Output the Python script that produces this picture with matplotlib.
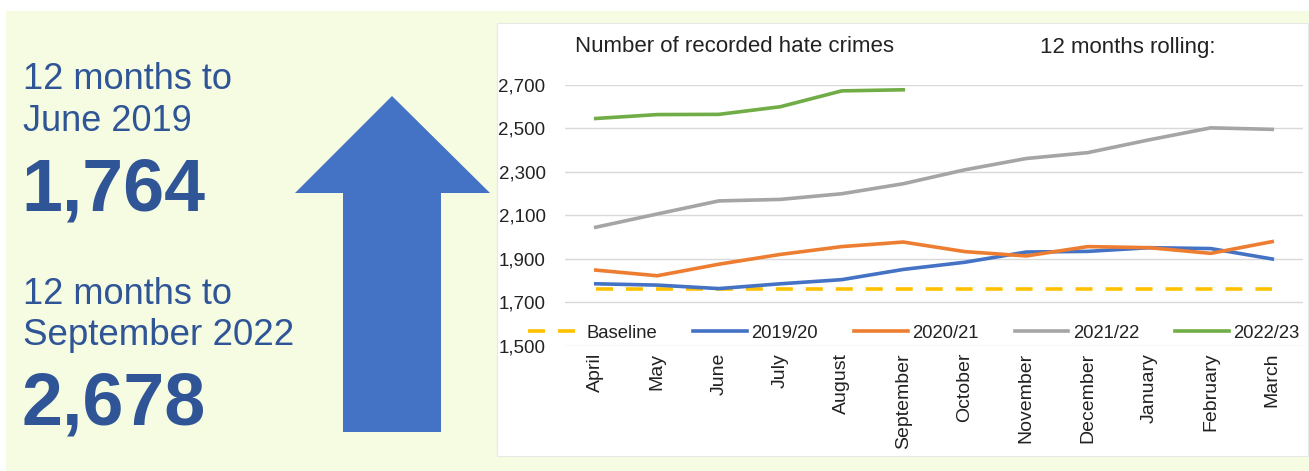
import matplotlib.pyplot as plt
from matplotlib.patches import Rectangle, Polygon

W, H = 1309, 471

MONTHS = ["April", "May", "June", "July", "August", "September",
          "October", "November", "December", "January", "February", "March"]

BASELINE = 1764
Y_2019_20 = [1786, 1780, 1764, 1786, 1805, 1852, 1885, 1932, 1935, 1952, 1948, 1900]
Y_2020_21 = [1849, 1823, 1876, 1921, 1957, 1978, 1934, 1914, 1957, 1952, 1926, 1980]
Y_2021_22 = [2046, 2107, 2167, 2174, 2200, 2246, 2310, 2362, 2389, 2448, 2503, 2496]
Y_2022_23 = [2546, 2564, 2565, 2600, 2673, 2678]

Y_TICKS = [1500, 1700, 1900, 2100, 2300, 2500, 2700]

COLORS = {
    "Baseline": "#FFC000",
    "2019/20":  "#4472C4",
    "2020/21":  "#ED7D31",
    "2021/22":  "#A5A5A5",
    "2022/23":  "#70AD47",
}
BG = "#F5FCE2"
TEXT_BLUE = "#2F5597"
ARROW_BLUE = "#4472C4"
FONT = "Liberation Sans"

plt.rcParams["font.family"] = [FONT, "DejaVu Sans"]

fig = plt.figure(figsize=(W / 100, H / 100), dpi=100, facecolor="white")


def fx(px):
    return px / W


def fy(py):
    return 1 - py / H


# background panels
fig.patches.append(Rectangle((fx(6), 0), 1 - fx(6), fy(11), transform=fig.transFigure,
                             facecolor=BG, edgecolor="none", zorder=-3))
fig.patches.append(Rectangle((fx(497), fy(456)), fx(1308 - 497), (456 - 23) / H,
                             transform=fig.transFigure, facecolor="white",
                             edgecolor="#E8E8E8", linewidth=0.8, zorder=-2))

# big arrow
arrow_px = [(392, 96), (490, 193), (441, 193), (441, 432),
            (343, 432), (343, 193), (295, 193)]
fig.patches.append(Polygon([(fx(x), fy(y)) for x, y in arrow_px], closed=True,
                           transform=fig.transFigure, facecolor=ARROW_BLUE,
                           edgecolor="none"))

# left hand text
fig.text(fx(23), fy(89), "12 months to", fontsize=26, color=TEXT_BLUE, va="baseline")
fig.text(fx(23), fy(131), "June 2019", fontsize=26, color=TEXT_BLUE, va="baseline")
fig.text(fx(21), fy(210), "1,764", fontsize=53, fontweight="bold", color=TEXT_BLUE,
         va="baseline")
fig.text(fx(23), fy(304), "12 months to", fontsize=26, color=TEXT_BLUE, va="baseline")
fig.text(fx(23), fy(345), "September 2022", fontsize=26.5, color=TEXT_BLUE,
         va="baseline")
fig.text(fx(21), fy(425), "2,678", fontsize=53, fontweight="bold", color=TEXT_BLUE,
         va="baseline")

# line chart
ax = fig.add_axes([fx(565), fy(346), fx(1303 - 565), (346 - 85) / H])
ax.set_facecolor("none")
x = list(range(len(MONTHS)))

ax.plot(x, [BASELINE] * len(MONTHS), color=COLORS["Baseline"], lw=2.6,
        dashes=(4.7, 3.6), label="Baseline", zorder=2)
ax.plot(x, Y_2019_20, color=COLORS["2019/20"], lw=2.6, label="2019/20", zorder=3)
ax.plot(x, Y_2020_21, color=COLORS["2020/21"], lw=2.6, label="2020/21", zorder=3)
ax.plot(x, Y_2021_22, color=COLORS["2021/22"], lw=2.6, label="2021/22", zorder=3)
ax.plot(x[:len(Y_2022_23)], Y_2022_23, color=COLORS["2022/23"], lw=2.6,
        label="2022/23", zorder=3)

ax.set_xlim(-0.5, 11.5)
ax.set_ylim(1500, 2700)
ax.set_yticks(Y_TICKS)
ax.set_yticklabels([f"{v:,}" for v in Y_TICKS], fontsize=13.5, color="#222222")
ax.set_xticks(x)
ax.set_xticklabels(MONTHS, rotation=90, fontsize=14, color="#222222")
ax.tick_params(axis="both", length=0)
ax.tick_params(axis="x", pad=5)
ax.tick_params(axis="y", pad=14)
ax.grid(axis="y", color="#D9D9D9", linewidth=1)
ax.set_axisbelow(True)
for s in ax.spines.values():
    s.set_visible(False)

leg = fig.legend(loc="center", bbox_to_anchor=(fx(914), fy(333)), ncol=5,
                 frameon=False, fontsize=13.3, handlelength=2.9, handletextpad=0.25,
                 columnspacing=1.95, borderaxespad=0)
for t in leg.get_texts():
    t.set_color("#222222")

fig.text(fx(575), fy(47), "Number of recorded hate crimes", fontsize=16,
         color="#222222", va="center")
fig.text(fx(1040), fy(47), "12 months rolling:", fontsize=16, color="#222222",
         va="center")

fig.savefig("out.png", dpi=100, facecolor=fig.get_facecolor())
